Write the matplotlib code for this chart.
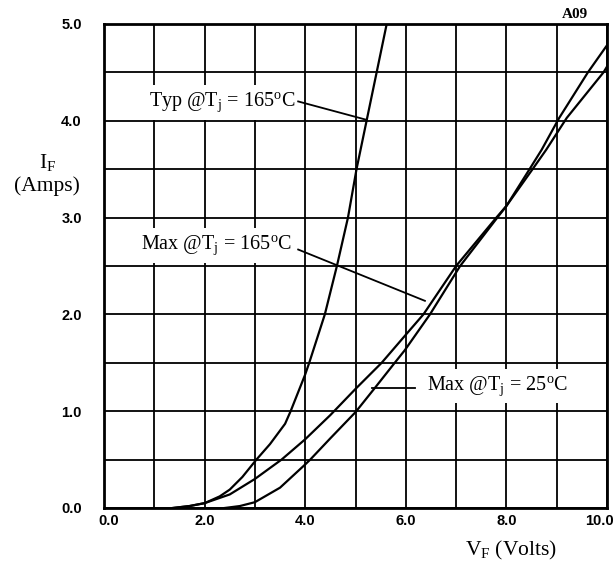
import numpy as np
from matplotlib import pyplot as plt
from matplotlib.ticker import MultipleLocator
from matplotlib.transforms import ScaledTranslation

# curve points (V_F in volts, I_F in amps)
typ165_v = [1.37, 1.7, 2.0, 2.3, 2.5, 2.75, 3.03, 3.3, 3.6, 3.71, 4.0, 4.08, 4.39, 4.63, 4.85, 5.02, 5.22, 5.42, 5.62]
typ165_i = [0.0, 0.02, 0.05, 0.12, 0.19, 0.32, 0.5, 0.66, 0.87, 1.0, 1.38, 1.5, 2.0, 2.5, 3.0, 3.5, 4.0, 4.5, 5.0]

max165_v = [1.37, 1.7, 2.0, 2.5, 3.0, 3.53, 4.0, 4.5, 5.0, 5.52, 6.0, 6.35, 7.0, 7.8, 8.0, 8.52, 8.79, 9.2, 9.93, 10.0]
max165_i = [0.0, 0.02, 0.05, 0.14, 0.30, 0.5, 0.71, 0.96, 1.23, 1.5, 1.79, 2.0, 2.5, 3.0, 3.12, 3.5, 3.7, 4.03, 4.5, 4.56]

max25_v = [2.4, 2.7, 3.0, 3.5, 4.0, 4.1, 4.5, 5.0, 5.4, 5.78, 5.98, 6.48, 7.08, 7.82, 8.0, 8.46, 8.7, 9.05, 9.62, 10.0]
max25_i = [0.0, 0.02, 0.06, 0.21, 0.45, 0.5, 0.72, 0.99, 1.25, 1.5, 1.63, 2.0, 2.5, 3.0, 3.12, 3.5, 3.7, 4.03, 4.5, 4.78]

x_ticks = [0.0, 2.0, 4.0, 6.0, 8.0, 10.0]
y_ticks = [0.0, 1.0, 2.0, 3.0, 4.0, 5.0]

plt.rcParams['mathtext.fontset'] = 'custom'
plt.rcParams['mathtext.rm'] = 'Liberation Serif'
plt.rcParams['mathtext.it'] = 'Liberation Serif:italic'

fig = plt.figure(figsize=(6.13, 5.66), dpi=100)
ax = fig.add_axes([0.1697, 0.1025, 0.8205, 0.8551])

# curves
ax.plot(typ165_v, typ165_i, color='black', lw=1.6, zorder=2)
ax.plot(max165_v, max165_i, color='black', lw=1.6, zorder=2)
ax.plot(max25_v, max25_i, color='black', lw=1.6, zorder=2)

# grid every 1 V and 0.5 A
ax.set_xlim(0, 10)
ax.set_ylim(0, 5)
ax.set_xticks(x_ticks)
ax.set_xticklabels(['%.1f' % v for v in x_ticks])
ax.set_yticks(y_ticks)
ax.set_yticklabels(['%.1f' % v for v in y_ticks])
ax.xaxis.set_minor_locator(MultipleLocator(1.0))
ax.yaxis.set_minor_locator(MultipleLocator(0.5))
ax.set_axisbelow(True)
ax.grid(which='both', color='black', lw=1.3)
ax.tick_params(which='both', length=0)
ax.tick_params(axis='x', pad=4)
ax.tick_params(axis='y', pad=16)
for lab in ax.get_xticklabels() + ax.get_yticklabels():
    lab.set_fontfamily('Liberation Sans')
    lab.set_fontweight('bold')
    lab.set_fontsize(10.5)
# first and last x labels sit a bit inwards like on the datasheet
xl = ax.get_xticklabels()
xl[0].set_transform(xl[0].get_transform() + ScaledTranslation(5/100, 0, fig.dpi_scale_trans))
xl[-1].set_transform(xl[-1].get_transform() + ScaledTranslation(-8/100, 0, fig.dpi_scale_trans))
for s in ax.spines.values():
    s.set_linewidth(2)

# axis labels
serif = 'Liberation Serif'
ax.set_ylabel('I$_\\mathrm{F}$\n(Amps)', rotation=0, fontsize=15.5, family=serif,
              ha='center', va='center', linespacing=1.2)
ax.yaxis.set_label_coords(-0.113, 0.69)
ax.set_xlabel('V$_\\mathrm{F}$ (Volts)', fontsize=15.5, family=serif, va='center')
ax.xaxis.set_label_coords(0.81, -0.087)

# curve labels with leader lines
box = dict(facecolor='white', edgecolor='none', pad=4)
ax.text(3.8, 4.19, 'Typ @T$_\\mathrm{j}$ = 165$^\\mathrm{o}$C', ha='right', va='center',
        fontsize=14.5, family=serif, bbox=box, zorder=3)
ax.plot([3.86, 5.22], [4.20, 4.01], color='black', lw=1.3, zorder=3)

ax.text(3.74, 2.71, 'Max @T$_\\mathrm{j}$ = 165$^\\mathrm{o}$C', ha='right', va='center',
        fontsize=14.5, family=serif, bbox=box, zorder=3)
ax.plot([3.86, 6.38], [2.67, 2.14], color='black', lw=1.3, zorder=3)

ax.text(6.42, 1.26, 'Max @T$_\\mathrm{j}$ = 25$^\\mathrm{o}$C', ha='left', va='center',
        fontsize=14.5, family=serif, bbox=box, zorder=3)
ax.plot([6.18, 5.32], [1.24, 1.24], color='black', lw=1.3, zorder=3)

fig.text(0.938, 0.975, 'A09', ha='center', va='center', fontsize=11,
         family=serif, fontweight='bold')

plt.savefig('out.png', dpi=100)
